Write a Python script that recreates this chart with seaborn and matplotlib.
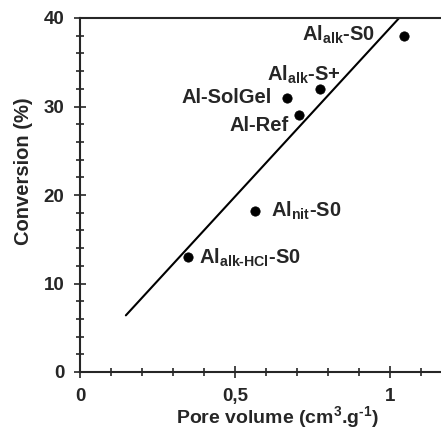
import matplotlib
matplotlib.use("Agg")
import matplotlib.pyplot as plt
import seaborn as sns
import pandas as pd
from matplotlib.ticker import MultipleLocator

sns.set_style("ticks")
plt.rcParams['font.family'] = ['Liberation Sans', 'DejaVu Sans']
plt.rcParams['font.weight'] = 'bold'
plt.rcParams['mathtext.fontset'] = 'custom'
plt.rcParams['mathtext.rm'] = 'Liberation Sans:bold'
plt.rcParams['mathtext.bf'] = 'Liberation Sans:bold'
plt.rcParams['mathtext.default'] = 'bf'

# data
names = [r'Al$_{alk}$-S0', r'Al$_{alk}$-S+', 'Al-SolGel', 'Al-Ref',
         r'Al$_{nit}$-S0', r'Al$_{alk\text{-}HCl}$-S0']
pore_volume = [1.045, 0.776, 0.667, 0.707, 0.565, 0.349]
conversion = [38.0, 32.0, 31.0, 29.0, 18.2, 13.0]
fit_x = [0.148, 1.03]
fit_y = [6.4, 40.0]

df = pd.DataFrame({'x': pore_volume, 'y': conversion, 'name': names})
fit = pd.DataFrame({'x': fit_x, 'y': fit_y})

fig = plt.figure(figsize=(4.41, 4.30), dpi=100)
ax = fig.add_axes([80/441, 1-372/430, 1-80/441, (372-18)/430])

sns.lineplot(data=fit, x='x', y='y', color='black', lw=1.5, ax=ax)
sns.scatterplot(data=df, x='x', y='y', color='black', s=45, edgecolor='black', ax=ax, zorder=3)

label_pos = [(0.952, 38.1, 'right'), (0.603, 33.6, 'left'), (0.328, 31.0, 'left'),
             (0.482, 27.9, 'left'), (0.615, 18.2, 'left'), (0.385, 12.9, 'left')]
for n, (lx, ly, ha) in zip(names, label_pos):
    ax.text(lx, ly, n, ha=ha, va='center', fontsize=14.5, fontweight='bold')

ax.set_xlim(0, 1.165)
ax.set_ylim(0, 40)
ax.xaxis.set_major_locator(MultipleLocator(0.5))
ax.xaxis.set_minor_locator(MultipleLocator(0.1))
ax.yaxis.set_major_locator(MultipleLocator(10))
ax.yaxis.set_minor_locator(MultipleLocator(2))
ax.set_xticks([0, 0.5, 1])
ax.set_xticklabels(['0', '0,5', '1'])
ax.tick_params(which='both', direction='inout', width=1.2, labelsize=13.5, pad=7)
ax.tick_params(which='major', length=8.6)
ax.tick_params(which='minor', length=5.8)
ax.spines['right'].set_visible(False)
for s in ['left', 'bottom', 'top']:
    ax.spines[s].set_linewidth(1.5)
ax.set_xlabel(r'Pore volume (cm$^{3}$.g$^{\text{-}1}$)', fontsize=14, fontweight='bold')
ax.set_ylabel('Conversion (%)', fontsize=14.5, fontweight='bold')
ax.xaxis.set_label_coords(0.548, -0.092)
ax.yaxis.set_label_coords(-0.130, 0.568)

fig.savefig('out.png', dpi=100)
